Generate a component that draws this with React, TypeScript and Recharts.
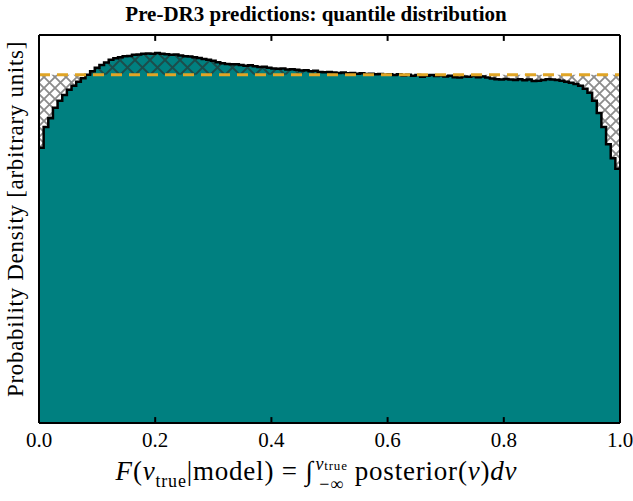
import { Area, ComposedChart, Line, ReferenceLine, XAxis, YAxis } from "recharts";

// histogram of posterior quantiles, 125 equal-width bins on [0, 1]
const density = [
  0.79, 0.85, 0.875, 0.905, 0.925, 0.942, 0.957, 0.968, 0.98, 0.99,
  1.0, 1.01, 1.02, 1.028, 1.035, 1.043, 1.047, 1.05, 1.053, 1.054,
  1.057, 1.058, 1.06, 1.061, 1.06, 1.062, 1.06, 1.059, 1.057, 1.058,
  1.055, 1.053, 1.052, 1.05, 1.048, 1.045, 1.043, 1.04, 1.036, 1.033,
  1.031, 1.03, 1.03, 1.028, 1.026, 1.027, 1.024, 1.022, 1.023, 1.02,
  1.018, 1.017, 1.018, 1.015, 1.016, 1.014, 1.012, 1.013, 1.01, 1.011,
  1.008, 1.007, 1.008, 1.006, 1.005, 1.006, 1.004, 1.005, 1.003, 1.004,
  1.002, 1.003, 1.001, 1.002, 1.0, 1.001, 0.999, 1.001, 0.998, 1.0,
  0.997, 0.999, 0.994, 0.997, 0.999, 0.996, 0.998, 0.995, 0.997, 0.993,
  0.992, 0.995, 0.994, 0.996, 0.993, 0.995, 0.992, 0.989, 0.987, 0.986,
  0.988, 0.986, 0.985, 0.987, 0.984, 0.986, 0.982, 0.983, 0.985, 0.987,
  0.986, 0.985, 0.983, 0.98, 0.977, 0.973, 0.968, 0.96, 0.948, 0.925,
  0.89, 0.85, 0.8, 0.76, 0.73,
];
const uniformLevel = 1;
const xTicks = [0, 0.2, 0.4, 0.6, 0.8, 1.0];
const yMax = 1.114;
const tickLen = 0.017; // inward tick length, in density units

const binWidth = 1 / density.length;
const rows = density.map((d, i) => ({ x: i * binWidth, d }));
rows.push({ x: 1, d: density[density.length - 1] });
const data = rows.map((r) => ({
  ...r,
  excess: [uniformLevel, Math.max(r.d, uniformLevel)],
  deficit: [Math.min(r.d, uniformLevel), uniformLevel],
}));

const serif = "'Liberation Serif', 'Times New Roman', serif";

const BottomTick = (props: any) => {
  const { x, y, payload } = props;
  return (
    <text x={x} y={y + 24} textAnchor="middle" fontSize={21} fontFamily={serif} fill="#000">
      {payload.value.toFixed(1)}
    </text>
  );
};

const frame = { stroke: "#000", strokeWidth: 2 };

export default function App() {
  return (
    <div style={{ position: "absolute", left: 0, top: 0, width: 633, height: 501, background: "#fff" }}>
      <ComposedChart width={633} height={501} data={data} margin={{ top: 35, right: 13, bottom: 38, left: 39 }}>
        <defs>
          <pattern id="hatchGray" width="11" height="11" patternUnits="userSpaceOnUse">
            <rect width="11" height="11" fill="#fff" />
            <path d="M-1,-1 L12,12 M12,-1 L-1,12" stroke="#8c8c8c" strokeWidth={1.8} />
          </pattern>
          <pattern id="hatchDark" width="15" height="15" patternUnits="userSpaceOnUse">
            <path d="M-1,-1 L16,16 M16,-1 L-1,16" stroke="#1b4d4b" strokeWidth={2} />
          </pattern>
        </defs>
        <XAxis
          dataKey="x"
          type="number"
          domain={[0, 1]}
          ticks={xTicks}
          height={40}
          tickSize={0}
          tickMargin={0}
          tick={<BottomTick />}
          axisLine={false}
          tickLine={false}
        />
        <YAxis
          type="number"
          domain={[0, yMax]}
          allowDataOverflow
          width={0}
          tick={false}
          tickLine={false}
          axisLine={false}
        />
        <Area
          dataKey="d"
          type="stepAfter"
          fill="#008080"
          fillOpacity={1}
          stroke="none"
          dot={false}
          activeDot={false}
          isAnimationActive={false}
        />
        <Area
          dataKey="deficit"
          type="stepAfter"
          fill="url(#hatchGray)"
          fillOpacity={1}
          stroke="none"
          dot={false}
          activeDot={false}
          isAnimationActive={false}
        />
        <Area
          dataKey="excess"
          type="stepAfter"
          fill="url(#hatchDark)"
          fillOpacity={1}
          stroke="none"
          dot={false}
          activeDot={false}
          isAnimationActive={false}
        />
        <Line
          dataKey="d"
          type="stepAfter"
          stroke="#000"
          strokeWidth={2.5}
          dot={false}
          activeDot={false}
          isAnimationActive={false}
        />
        <ReferenceLine y={uniformLevel} stroke="#e0a526" strokeWidth={3} strokeDasharray="11 7" />

        {/* box frame and inward ticks on top and bottom */}
        <ReferenceLine x={0} {...frame} />
        <ReferenceLine x={1} {...frame} />
        <ReferenceLine y={0} {...frame} />
        <ReferenceLine y={yMax} {...frame} />
        {xTicks.map((t) => (
          <ReferenceLine
            key={`b${t}`}
            segment={[
              { x: t, y: 0 },
              { x: t, y: tickLen },
            ]}
            {...frame}
          />
        ))}
        {xTicks.map((t) => (
          <ReferenceLine
            key={`t${t}`}
            segment={[
              { x: t, y: yMax },
              { x: t, y: yMax - tickLen },
            ]}
            {...frame}
          />
        ))}
      </ComposedChart>

      <svg width={633} height={501} style={{ position: "absolute", left: 0, top: 0, pointerEvents: "none" }}>
        <text x={316} y={21} textAnchor="middle" fontSize={21} fontWeight="bold" fontFamily={serif} fill="#000">
          Pre-DR3 predictions: quantile distribution
        </text>
        <text
          transform="translate(23, 219) rotate(-90)"
          textAnchor="middle"
          fontSize={23}
          letterSpacing={0.7}
          fontFamily={serif}
          fill="#000"
        >
          Probability Density [arbitrary units]
        </text>
      </svg>

      <div
        style={{
          position: "absolute",
          left: 0,
          top: 455,
          width: 633,
          textAlign: "center",
          fontFamily: serif,
          fontSize: 27,
          letterSpacing: 0.8,
          lineHeight: "22px",
          whiteSpace: "nowrap",
          color: "#000",
        }}
      >
        <i>F</i>(<i>v</i>
        <sub style={{ fontSize: 18, lineHeight: 0 }}>true</sub>|model) = ∫
        <span
          style={{
            display: "inline-flex",
            flexDirection: "column",
            verticalAlign: "middle",
            fontSize: 18,
            lineHeight: "18px",
            marginLeft: 2,
            marginRight: 7,
            position: "relative",
            top: 0,
          }}
        >
          <span>
            <i>v</i>
            <span style={{ fontSize: 13 }}>true</span>
          </span>
          <span>−∞</span>
        </span>
        posterior(<i>v</i>)<i>dv</i>
      </div>
    </div>
  );
}
